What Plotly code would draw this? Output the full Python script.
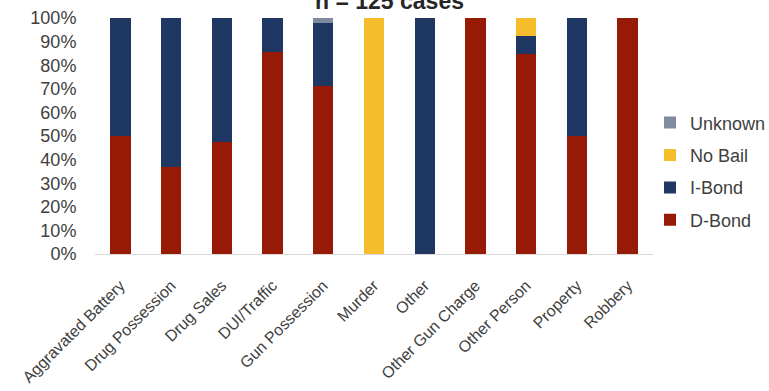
import plotly.graph_objects as go

categories = ["Aggravated Battery", "Drug Possession", "Drug Sales", "DUI/Traffic",
              "Gun Possession", "Murder", "Other", "Other Gun Charge",
              "Other Person", "Property", "Robbery"]
d_bond = [50.0, 36.8, 47.4, 85.7, 71.0, 0, 0, 100, 84.6, 50.0, 100]
i_bond = [50.0, 63.2, 52.6, 14.3, 27.0, 0, 100, 0, 7.7, 50.0, 0]
no_bail = [0, 0, 0, 0, 0, 100, 0, 0, 7.7, 0, 0]
unknown = [0, 0, 0, 0, 2.0, 0, 0, 0, 0, 0, 0]

series = [("D-Bond", d_bond, "#961A05", 4),
          ("I-Bond", i_bond, "#1F3763", 3),
          ("No Bail", no_bail, "#F5BC2C", 2),
          ("Unknown", unknown, "#808AA0", 1)]

FONT = "Liberation Sans, Arial, sans-serif"
TXT = "#404040"

fig = go.Figure()
for name, vals, col, rank in series:
    fig.add_trace(go.Bar(x=categories, y=vals, name=name, legendgroup=name,
                         legendrank=rank,
                         marker=dict(color=col, line=dict(width=0))))

fig.update_layout(
    width=769, height=391,
    margin=dict(l=95, r=116, t=18, b=137, autoexpand=False),
    barmode="stack", bargap=0.6,
    plot_bgcolor="white", paper_bgcolor="white",
    font=dict(family=FONT, color=TXT, size=18),
    showlegend=True,
    legend=dict(traceorder="grouped", tracegroupgap=6,
                x=0.9946, xanchor="left", y=0.35, yanchor="middle",
                font=dict(size=18, color=TXT), bgcolor="rgba(0,0,0,0)"),
    xaxis=dict(tickangle=-45, showline=True, linecolor="#D9D9D9", linewidth=1,
               ticks="outside", ticklen=15, tickcolor="rgba(0,0,0,0)",
               tickfont=dict(size=16, color=TXT), showgrid=False, automargin=False),
    yaxis=dict(range=[0, 100], tickvals=list(range(0, 101, 10)),
               ticktext=[f"{v}%" for v in range(0, 101, 10)],
               showgrid=False, zeroline=False, showline=False,
               ticks="outside", ticklen=14, tickcolor="rgba(0,0,0,0)",
               tickfont=dict(size=18, color=TXT), automargin=False),
)
fig.add_annotation(text="<b>n = 125 cases</b>", xref="paper", yref="paper",
                   x=0.527, y=1.072, xanchor="center", yanchor="middle",
                   showarrow=False, font=dict(size=23, color="#262626", family=FONT))

fig.write_html("out.html")
